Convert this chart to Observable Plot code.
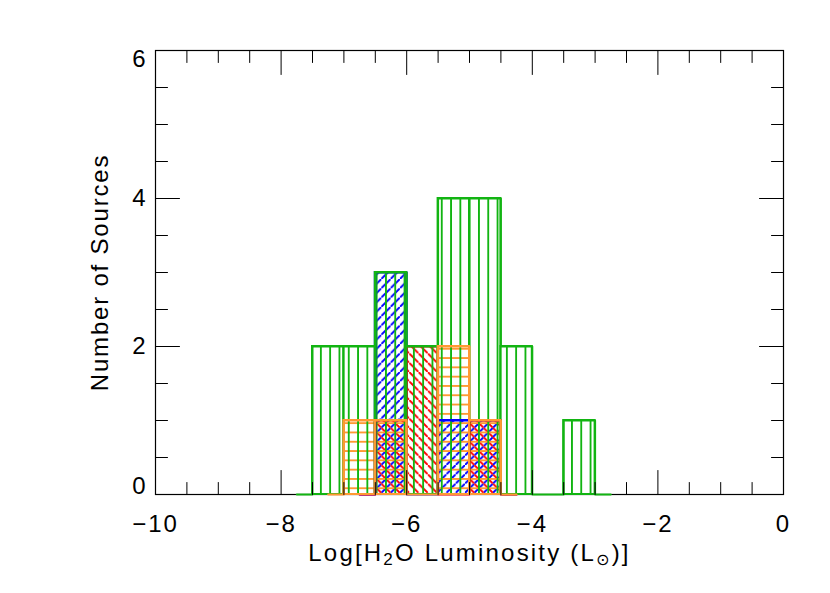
<!DOCTYPE html>
<html><head><meta charset="utf-8">
<script src="https://cdn.jsdelivr.net/npm/d3@7"></script>
<script src="https://cdn.jsdelivr.net/npm/@observablehq/plot@0.6"></script>
<style>html,body{margin:0;padding:0;background:#fff}</style>
</head><body><div id="chart"></div>
<script>
// ---- data (bin centres, bin width 0.5) ----
const binWidth = 0.5;
const greenCenters  = [-7.75, -7.25, -6.75, -6.25, -5.75, -5.25, -4.75, -4.25, -3.75, -3.25, -2.75];
const greenCounts   = [0, 2, 2, 3, 2, 4, 4, 2, 0, 1, 0];
const blueCenters   = [-6.75, -6.25, -5.75, -5.25, -4.75, -4.25];
const blueCounts    = [0, 3, 0, 1, 1, 0];
const redCenters    = [-6.75, -6.25, -5.75, -5.25, -4.75, -4.25];
const redCounts     = [0, 1, 2, 0, 1, 0];
const orangeCenters = [-7.25, -6.75, -6.25, -5.75, -5.25, -4.75, -4.25];
const orangeCounts  = [0, 1, 1, 0, 2, 1, 0];

const xMajorTicks = [-10, -8, -6, -4, -2, 0];
const xMinorTicks = d3.range(-10, 0.001, 0.5);
const yMajorTicks = [0, 2, 4, 6];
const yMinorTicks = d3.range(0, 6.001, 0.5);
const xTitle = "Log[H₂O Luminosity (L⊙)]";
const yTitle = "Number of Sources";

const colors = {green: "#12b412", blue: "#0000ff", red: "#ff0000", orange: "#ff9933"};

function bins(centers, counts) {
  return centers.map((c, i) => ({c, n: counts[i]}));
}
const series = {
  green: bins(greenCenters, greenCounts),
  blue: bins(blueCenters, blueCounts),
  red: bins(redCenters, redCounts),
  orange: bins(orangeCenters, orangeCounts)
};

const tickShape = {draw(ctx, l) { ctx.moveTo(0, 0); ctx.lineTo(0, -l); }};
const major = (arr) => (d) => arr.includes(d) ? 13 : 6.5;
const fmt = d => d < 0 ? "\u2212" + (-d) : String(d);

function hatchRect(name) {
  return Plot.rect(series[name].filter(d => d.n > 0), {
    x1: d => d.c - binWidth / 2, x2: d => d.c + binWidth / 2, y1: 0, y2: "n",
    fill: `url(#hatch-${name})`
  });
}
function outline(name) {
  return [
    Plot.rect(series[name].filter(d => d.n > 0), {
      x1: d => d.c - binWidth / 2, x2: d => d.c + binWidth / 2, y1: 0, y2: "n",
      fill: "none", stroke: colors[name], strokeWidth: 2
    }),
    Plot.line(series[name], {x: "c", y: "n", curve: "step", stroke: colors[name], strokeWidth: 2})
  ];
}

const font = "'Liberation Sans', Arial, Helvetica, sans-serif";
const axisText = {tickSize: 0, label: null, fontSize: 24, tickFormat: fmt};

const chart = Plot.plot({
  width: 830, height: 593,
  marginLeft: 155, marginRight: 47, marginTop: 50, marginBottom: 99,
  x: {domain: [-10, 0]},
  y: {domain: [0, 6]},
  style: {fontFamily: font, fontSize: "24px", background: "white", color: "black", overflow: "visible", letterSpacing: "2px"},
  marks: [
    Plot.frame({stroke: "black", strokeWidth: 1.2}),
    hatchRect("blue"), hatchRect("red"), hatchRect("orange"), hatchRect("green"),
    ...outline("blue"), ...outline("red"), ...outline("green"), ...outline("orange"),
    // ticks (inward, on all four sides)
    Plot.vector(xMinorTicks, {x: d => d, y: 0, length: major(xMajorTicks), rotate: 0, anchor: "start", shape: tickShape, stroke: "black", strokeWidth: 1}),
    Plot.vector(xMinorTicks, {x: d => d, y: 6, length: major(xMajorTicks), rotate: 180, anchor: "start", shape: tickShape, stroke: "black", strokeWidth: 1}),
    Plot.vector(yMinorTicks, {x: -10, y: d => d, length: major(yMajorTicks), rotate: 90, anchor: "start", shape: tickShape, stroke: "black", strokeWidth: 1}),
    Plot.vector(yMinorTicks, {x: 0, y: d => d, length: major(yMajorTicks), rotate: -90, anchor: "start", shape: tickShape, stroke: "black", strokeWidth: 1}),
    // tick labels
    Plot.axisX(xMajorTicks, {...axisText, tickPadding: 20}),
    Plot.axisY([2, 4], {...axisText, tickPadding: 8}),
    Plot.axisY([0], {...axisText, tickPadding: 8, dy: -8}),
    Plot.axisY([6], {...axisText, tickPadding: 8, dy: 9}),
    // titles
    Plot.text([xTitle], {frameAnchor: "bottom", dy: 59, lineAnchor: "middle", textAnchor: "middle", fontSize: 24, fill: "black"}),
    Plot.text([yTitle], {frameAnchor: "left", dx: -55, rotate: -90, lineAnchor: "middle", textAnchor: "middle", fontSize: 24, fill: "black"})
  ]
});

// hatch patterns
const svg = chart.tagName.toLowerCase() === "svg" ? chart : chart.querySelector("svg");
const s = 9.3;
const defs = d3.create("svg:defs");
function pattern(name, d) {
  const p = defs.append("pattern").attr("id", `hatch-${name}`).attr("patternUnits", "userSpaceOnUse")
    .attr("width", s).attr("height", s);
  p.append("path").attr("d", d).attr("stroke", colors[name]).attr("stroke-width", 1.9).attr("fill", "none");
}
pattern("green", `M${s/2},-1V${s+1}`);
pattern("orange", `M-1,${s/2}H${s+1}`);
pattern("blue", `M-1,${s+1}L${s+1},-1M-2,1L1,-2M${s-1},${s+2}L${s+2},${s-1}`);
pattern("red", `M-1,-1L${s+1},${s+1}M-2,${s-1}L1,${s+2}M${s-1},-2L${s+2},1`);
svg.insertBefore(defs.node(), svg.firstChild);

// letter spacing for titles, subscripts
d3.select(svg).selectAll("text").each(function() {
  const t = this.textContent;
  if (t === xTitle) {
    const el = d3.select(this).attr("letter-spacing", "2.2px");
    el.text(null);
    el.append("tspan").text("Log[H");
    el.append("tspan").attr("baseline-shift", "-25%").attr("font-size", "17").text("2");
    el.append("tspan").text("O Luminosity (L");
    el.append("tspan").attr("baseline-shift", "-25%").attr("font-size", "16").attr("font-family", "DejaVu Sans").text("⊙");
    el.append("tspan").text(")]");
  } else if (t === yTitle) {
    d3.select(this).attr("letter-spacing", "1.8px");
  }
});

document.getElementById("chart").append(chart);
</script>
</body></html>
